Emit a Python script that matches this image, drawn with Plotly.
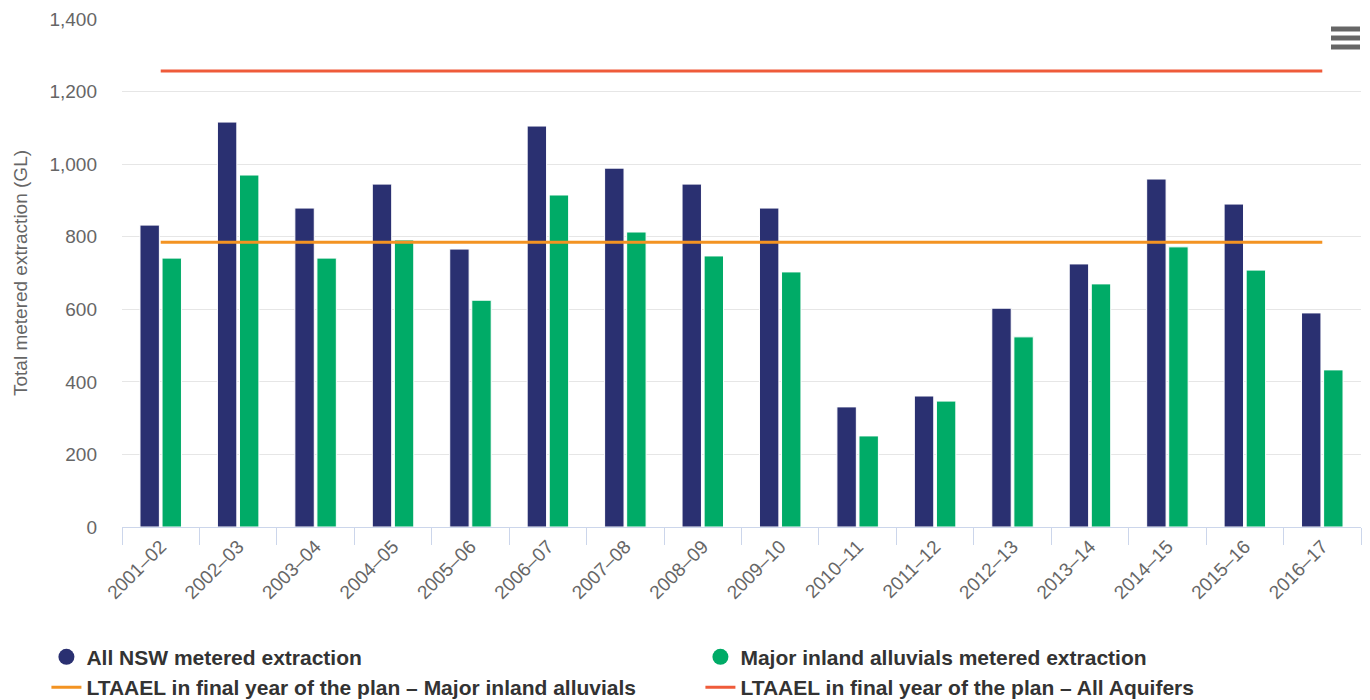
import plotly.graph_objects as go

years = ["2001–02", "2002–03", "2003–04", "2004–05", "2005–06", "2006–07", "2007–08", "2008–09",
         "2009–10", "2010–11", "2011–12", "2012–13", "2013–14", "2014–15", "2015–16", "2016–17"]
all_nsw = [832, 1116, 879, 945, 766, 1105, 989, 945, 879, 331, 361, 603, 725, 959, 890, 590]
major_inland = [741, 970, 741, 791, 625, 915, 813, 747, 703, 251, 347, 524, 670, 772, 708, 433]
ltaael_major = [785] * len(years)
ltaael_all = [1257] * len(years)

NAVY = "#2a3071"
GREEN = "#00ab67"
ORANGE = "#f39322"
RED = "#ef5b3a"
FONT = "Liberation Sans, Arial, sans-serif"

fig = go.Figure()
fig.add_trace(go.Bar(x=years, y=all_nsw, name="All NSW metered extraction",
                     marker=dict(color=NAVY, line=dict(color="white", width=1)), showlegend=False))
fig.add_trace(go.Bar(x=years, y=major_inland, name="Major inland alluvials metered extraction",
                     marker=dict(color=GREEN, line=dict(color="white", width=1)), showlegend=False))
fig.add_trace(go.Scatter(x=years, y=ltaael_major, mode="lines",
                         name="LTAAEL in final year of the plan – Major inland alluvials",
                         line=dict(color=ORANGE, width=3), showlegend=False))
fig.add_trace(go.Scatter(x=years, y=ltaael_all, mode="lines",
                         name="LTAAEL in final year of the plan – All Aquifers",
                         line=dict(color=RED, width=3), showlegend=False))

# legend-only entries (circle markers for bar series)
fig.add_trace(go.Scatter(x=[None], y=[None], mode="markers", name="All NSW metered extraction",
                         marker=dict(color=NAVY, size=22, symbol="circle")))
fig.add_trace(go.Scatter(x=[None], y=[None], mode="markers", name="Major inland alluvials metered extraction",
                         marker=dict(color=GREEN, size=22, symbol="circle")))
fig.add_trace(go.Scatter(x=[None], y=[None], mode="lines",
                         name="LTAAEL in final year of the plan – Major inland alluvials",
                         line=dict(color=ORANGE, width=3)))
fig.add_trace(go.Scatter(x=[None], y=[None], mode="lines",
                         name="LTAAEL in final year of the plan – All Aquifers",
                         line=dict(color=RED, width=3)))

# page body has an 8px margin, so the figure is sized/offset to compensate
fig.update_layout(
    width=1362, height=692,
    margin=dict(l=114, r=9, t=11, b=173, autoexpand=False),
    paper_bgcolor="white", plot_bgcolor="white",
    font=dict(family=FONT, color="#666666"),
    barmode="group", bargap=0.43, bargroupgap=0.12,
    legend=dict(orientation="h", x=-0.061, xanchor="left", y=-0.3557, yanchor="bottom",
                entrywidth=609, entrywidthmode="pixels", itemsizing="trace",
                font=dict(family=FONT, size=21, color="#333333", weight="bold"),
                tracegroupgap=0, itemwidth=30),
    xaxis=dict(tickangle=-45, tickson="boundaries", ticks="outside", ticklen=17,
               tickcolor="#ccd6eb", showline=True, linecolor="#ccd6eb", linewidth=1,
               tickfont=dict(size=19, color="#666666"), showgrid=False, automargin=False),
    yaxis=dict(range=[0, 1400], dtick=200, tickformat=",", showgrid=True, gridcolor="#e6e6e6",
               zeroline=False, tickfont=dict(size=19, color="#666666"), ticklabelstandoff=24,
               automargin=False,
               title=dict(text="Total metered extraction (GL)", font=dict(size=19, color="#666666"),
                          standoff=16)),
)

# context-menu (hamburger) icon
for yy in [21, 30, 39]:
    fig.add_shape(type="line", xref="paper", yref="paper",
                  x0=(1323 - 114) / 1239, x1=(1352 - 114) / 1239,
                  y0=(519 - yy) / 508, y1=(519 - yy) / 508,
                  line=dict(color="#666666", width=5))

fig.write_html("out.html")
